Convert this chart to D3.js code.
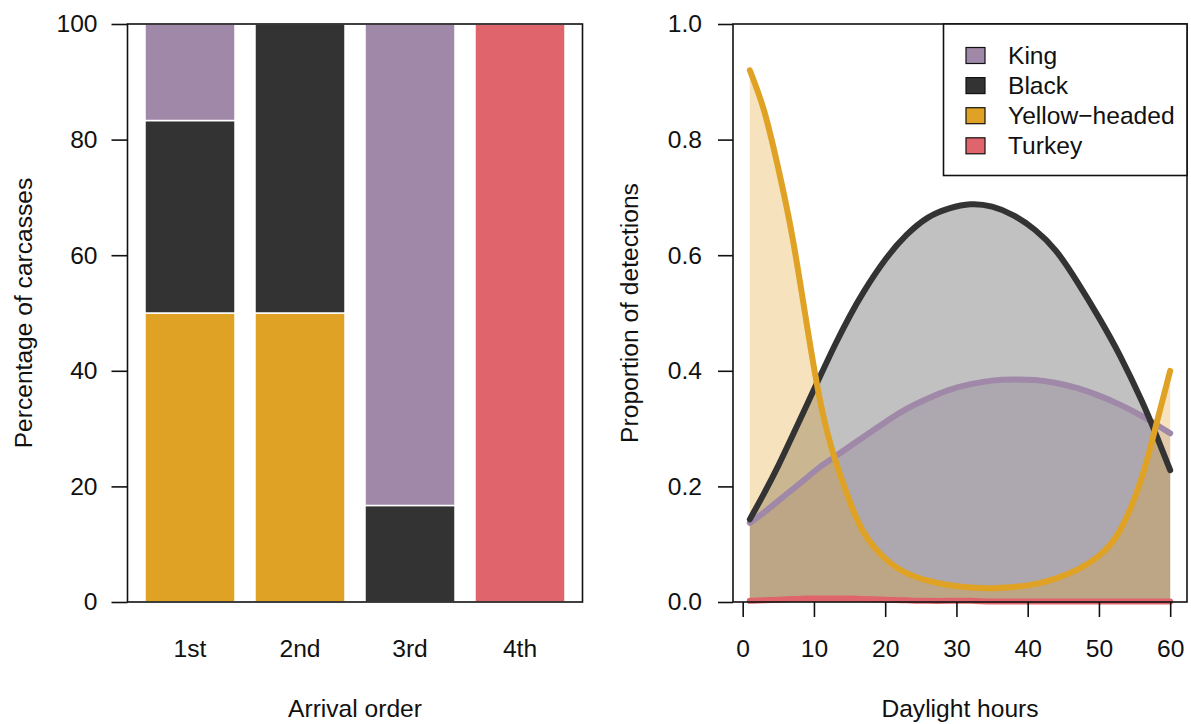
<!DOCTYPE html>
<html>
<head>
<meta charset="utf-8">
<script src="https://d3js.org/d3.v7.min.js"></script>
<style>
  body { margin: 0; background: #fff; }
  svg text { font-family: 'Liberation Sans', Arial, sans-serif; fill: #111; }
</style>
</head>
<body>
<svg class="chart"></svg>
<script>
// --- left panel: arrival order of each species at carcasses (% of carcasses)
let arrivalOrder = [ '1st', '2nd', '3rd', '4th' ];
let kingPct   = [ 16.7,  0,  83.3,   0 ];
let blackPct  = [ 33.3, 50,  16.7,   0 ];
let yellowPct = [ 50,   50,   0,     0 ];
let turkeyPct = [  0,    0,   0,   100 ];
let pctTicks  = [ 0, 20, 40, 60, 80, 100 ];

// --- right panel: proportion of detections over daylight hours
let hours      = [ 1, 3, 5, 7, 9, 11, 13, 15, 17, 20, 23, 26, 29, 32, 35, 38, 41, 44, 47, 50, 53, 56, 58, 60 ];
let kingProp   = [ .137, .155, .175, .195, .215, .235, .252, .269, .286, .311, .334, .352, .367, .377, .383, .385, .384, .379, .370, .357, .341, .322, .307, .292 ];
let blackProp  = [ .143, .188, .236, .288, .341, .394, .446, .494, .537, .592, .635, .665, .681, .688, .684, .669, .644, .607, .553, .492, .425, .348, .29, .228 ];
let yellowProp = [ .92, .85, .75, .63, .48, .34, .245, .175, .12, .075, .05, .037, .029, .025, .024, .026, .031, .041, .056, .08, .125, .215, .305, .40 ];
let turkeyProp = [ .002, .003, .004, .005, .006, .006, .006, .006, .005, .004, .003, .002, .002, .002, .001, .001, .001, .001, .001, .001, .001, .001, .001, .001 ];
let hourTicks  = [ 0, 10, 20, 30, 40, 50, 60 ];
let propTicks  = [ 0, .2, .4, .6, .8, 1 ];

let speciesNames = [ 'King', 'Black', 'Yellow\u2212headed', 'Turkey' ];
let colors = { king: '#a088a8', black: '#333333', yellow: '#e0a224', turkey: '#e0646c' };

let fontSize = 24.6;

var svg = d3.select( '.chart' )
    .attr( 'width', 1191 )
    .attr( 'height', 724 );

// ================= left: stacked bars =================
let left = { x0: 127.5, x1: 582.5, y0: 24, y1: 602 };

let xBand = d3.scaleBand()
    .domain( arrivalOrder )
    .range( [left.x0, left.x1] )
    .paddingInner( 20 / 110 )
    .paddingOuter( 17.5 / 110 );

let yPct = d3.scaleLinear()
    .domain( [0, 100] )
    .range( [left.y1, left.y0] );

let barRows = arrivalOrder.map( (a, i) => ({
  order: a, yellow: yellowPct[i], black: blackPct[i], king: kingPct[i], turkey: turkeyPct[i]
}) );

let stack = d3.stack().keys( [ 'yellow', 'black', 'king', 'turkey' ] )( barRows );

svg.append( 'g' )
  .selectAll( 'g' )
  .data( stack )
  .enter().append( 'g' )
    .attr( 'fill', s => colors[s.key] )
  .selectAll( 'rect' )
  .data( s => s.filter( d => d[1] - d[0] > 0 ) )
  .enter().append( 'rect' )
    .attr( 'x', d => xBand( d.data.order ) )
    .attr( 'width', xBand.bandwidth() )
    .attr( 'y', d => yPct( d[1] ) )
    .attr( 'height', d => yPct( d[0] ) - yPct( d[1] ) )
    .attr( 'stroke', '#fff' )
    .attr( 'stroke-width', 1.5 );

svg.append( 'rect' )
    .attr( 'x', left.x0 ).attr( 'y', left.y0 )
    .attr( 'width', left.x1 - left.x0 ).attr( 'height', left.y1 - left.y0 )
    .attr( 'fill', 'none' ).attr( 'stroke', '#111' ).attr( 'stroke-width', 1.6 );

var yAxisL = svg.append( 'g' )
    .attr( 'transform', 'translate(' + left.x0 + ',0)' )
    .call( d3.axisLeft( yPct ).tickValues( pctTicks ).tickSize( 16 ).tickPadding( 14 ) );

var xAxisL = svg.append( 'g' )
    .attr( 'transform', 'translate(0,' + left.y1 + ')' )
    .call( d3.axisBottom( xBand ).tickSize( 0 ).tickPadding( 38 ) );

svg.append( 'text' )
    .attr( 'x', ( left.x0 + left.x1 ) / 2 ).attr( 'y', 717 )
    .attr( 'text-anchor', 'middle' ).attr( 'font-size', fontSize )
    .text( 'Arrival order' );

svg.append( 'text' )
    .attr( 'transform', 'translate(32,' + ( left.y0 + left.y1 ) / 2 + ') rotate(-90)' )
    .attr( 'text-anchor', 'middle' ).attr( 'font-size', fontSize )
    .text( 'Percentage of carcasses' );

// ================= right: detection curves =================
let right = { x0: 733, x1: 1187, y0: 24, y1: 602 };

let xHour = d3.scaleLinear()
    .domain( [-1.36, 62.36] )
    .range( [right.x0, right.x1] );

let yProp = d3.scaleLinear()
    .domain( [0, 1] )
    .range( [right.y1, right.y0] );

let curves = [
  { key: 'king',   values: kingProp },
  { key: 'black',  values: blackProp },
  { key: 'yellow', values: yellowProp },
  { key: 'turkey', values: turkeyProp }
];
curves.forEach( c => { c.points = hours.map( (h, i) => [h, c.values[i]] ) } );

let area = d3.area()
    .x( d => xHour( d[0] ) )
    .y0( yProp( 0 ) )
    .y1( d => yProp( d[1] ) )
    .curve( d3.curveNatural );

let line = d3.line()
    .x( d => xHour( d[0] ) )
    .y( d => yProp( d[1] ) )
    .curve( d3.curveNatural );

svg.append( 'g' )
  .selectAll( 'path' )
  .data( curves )
  .enter().append( 'path' )
    .attr( 'd', c => area( c.points ) )
    .attr( 'fill', c => colors[c.key] )
    .attr( 'fill-opacity', 0.3 );

svg.append( 'g' )
  .selectAll( 'path' )
  .data( curves )
  .enter().append( 'path' )
    .attr( 'd', c => line( c.points ) )
    .attr( 'fill', 'none' )
    .attr( 'stroke', c => colors[c.key] )
    .attr( 'stroke-width', 6 )
    .attr( 'stroke-linecap', 'round' );

svg.append( 'rect' )
    .attr( 'x', right.x0 ).attr( 'y', right.y0 )
    .attr( 'width', right.x1 - right.x0 ).attr( 'height', right.y1 - right.y0 )
    .attr( 'fill', 'none' ).attr( 'stroke', '#111' ).attr( 'stroke-width', 1.6 );

var yAxisR = svg.append( 'g' )
    .attr( 'transform', 'translate(' + right.x0 + ',0)' )
    .call( d3.axisLeft( yProp ).tickValues( propTicks ).tickFormat( d3.format( '.1f' ) ).tickSize( 15 ).tickPadding( 16 ) );

var xAxisR = svg.append( 'g' )
    .attr( 'transform', 'translate(0,' + right.y1 + ')' )
    .call( d3.axisBottom( xHour ).tickValues( hourTicks ).tickSize( 15 ).tickPadding( 23 ) );

svg.append( 'text' )
    .attr( 'x', 960 ).attr( 'y', 717 )
    .attr( 'text-anchor', 'middle' ).attr( 'font-size', fontSize )
    .text( 'Daylight hours' );

svg.append( 'text' )
    .attr( 'transform', 'translate(638,' + ( right.y0 + right.y1 ) / 2 + ') rotate(-90)' )
    .attr( 'text-anchor', 'middle' ).attr( 'font-size', fontSize )
    .text( 'Proportion of detections' );

// axis styling, R-like
[ yAxisL, xAxisL, yAxisR, xAxisR ].forEach( ax => {
  ax.attr( 'font-size', fontSize ).attr( 'font-family', null );
  ax.select( '.domain' ).remove();
  ax.selectAll( '.tick line' ).attr( 'stroke', '#111' ).attr( 'stroke-width', 1.6 );
} );
xAxisL.selectAll( '.tick line' ).remove();

// legend
let legend = svg.append( 'g' );
legend.append( 'rect' )
    .attr( 'x', 943.5 ).attr( 'y', 24 )
    .attr( 'width', right.x1 - 943.5 ).attr( 'height', 151.5 )
    .attr( 'fill', '#fff' ).attr( 'stroke', '#111' ).attr( 'stroke-width', 1.6 );

var item = legend.selectAll( '.item' )
    .data( curves )
  .enter().append( 'g' )
    .attr( 'class', 'item' )
    .attr( 'transform', (d, i) => 'translate(0,' + ( 55.5 + i * 30.1 ) + ')' );

item.append( 'rect' )
    .attr( 'x', 966 ).attr( 'y', -8 )
    .attr( 'width', 19 ).attr( 'height', 16 )
    .attr( 'fill', d => colors[d.key] )
    .attr( 'stroke', '#111' ).attr( 'stroke-width', 1.2 );

item.append( 'text' )
    .attr( 'x', 1008 ).attr( 'dy', '0.35em' )
    .attr( 'font-size', fontSize )
    .text( (d, i) => speciesNames[i] );
</script>
</body>
</html>
